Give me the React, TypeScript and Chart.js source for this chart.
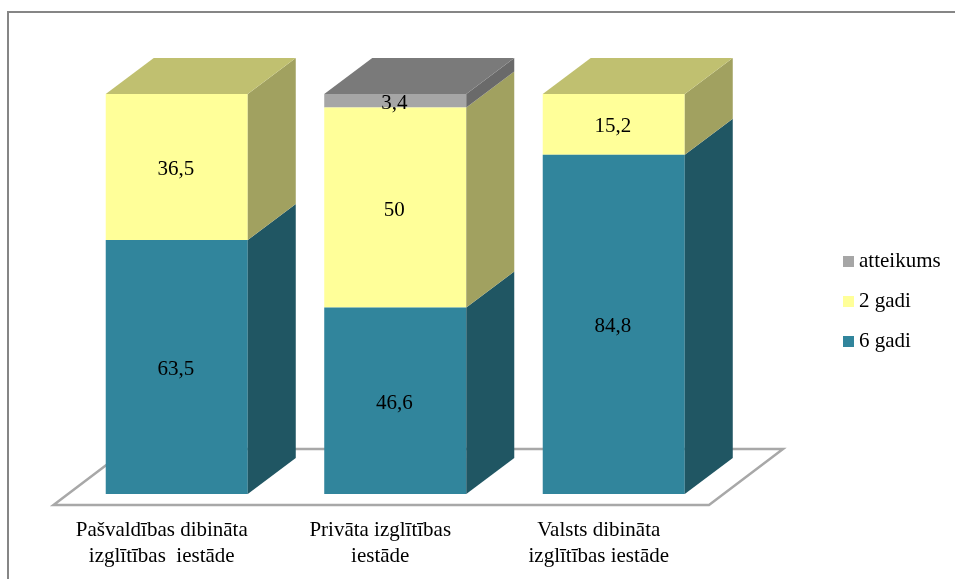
import React, { useEffect, useRef } from "react";
import { Chart, registerables } from "chart.js";

Chart.register(...registerables);

const categories: string[][] = [
  ["Pašvaldības dibināta", "izglītības  iestāde"],
  ["Privāta izglītības", "iestāde"],
  ["Valsts dibināta", "izglītības iestāde"],
];
const sixYears: (number | null)[] = [63.5, 46.6, 84.8];
const twoYears: (number | null)[] = [36.5, 50, 15.2];
const refusal: (number | null)[] = [null, 3.4, null];

const FONT = "'Liberation Serif', 'Times New Roman', serif";
const DEPTH_X = 48;
const DEPTH_Y = 36;

const series = [
  { label: "6 gadi", data: sixYears, front: "#31859C", side: "#205663", top: "#205663" },
  { label: "2 gadi", data: twoYears, front: "#FFFF99", side: "#A1A160", top: "#C0C070" },
  { label: "atteikums", data: refusal, front: "#A6A6A6", side: "#6A6A6A", top: "#7A7A7A" },
];

function swatch(color: string): HTMLCanvasElement {
  const c = document.createElement("canvas");
  c.width = 11;
  c.height = 11;
  const g = c.getContext("2d")!;
  g.fillStyle = color;
  g.fillRect(0, 0, 11, 11);
  return c;
}

function poly(ctx: CanvasRenderingContext2D, pts: number[][], fill: string) {
  ctx.beginPath();
  pts.forEach((p, i) => (i ? ctx.lineTo(p[0], p[1]) : ctx.moveTo(p[0], p[1])));
  ctx.closePath();
  ctx.fillStyle = fill;
  ctx.fill();
}

const scene = {
  id: "scene",
  afterLayout(chart: any) {
    const l = chart.legend;
    const pad = l.options.labels.padding;
    l.left = 848.5 - pad;
    l.right = 955;
    l.top = 232;
    l.bottom = 400;
  },
  beforeDatasetsDraw(chart: any) {
    const { ctx, chartArea: a } = chart;
    ctx.save();
    // frame
    ctx.strokeStyle = "#868686";
    ctx.lineWidth = 2;
    ctx.beginPath();
    ctx.moveTo(8, chart.height);
    ctx.lineTo(8, 12);
    ctx.lineTo(chart.width, 12);
    ctx.stroke();
    // floor
    const front = a.bottom + 11;
    const back = a.bottom - 45;
    ctx.strokeStyle = "#A8A8A8";
    ctx.lineWidth = 2.5;
    ctx.lineJoin = "miter";
    ctx.beginPath();
    ctx.moveTo(a.left - 14, front);
    ctx.lineTo(a.right - 14, front);
    ctx.lineTo(a.right + 60, back);
    ctx.lineTo(a.left + 60, back);
    ctx.closePath();
    ctx.stroke();
    ctx.restore();
  },
  afterDatasetsDraw(chart: any) {
    const { ctx } = chart;
    ctx.save();
    series.forEach((s, di) => {
      const meta = chart.getDatasetMeta(di);
      meta.data.forEach((bar: any, i: number) => {
        if (s.data[i] == null) return;
        const half = bar.width / 2;
        const r = bar.x + half;
        const l = bar.x - half;
        poly(ctx, [[r, bar.y], [r + DEPTH_X, bar.y - DEPTH_Y], [r + DEPTH_X, bar.base - DEPTH_Y], [r, bar.base]], s.side);
        const above = series.slice(di + 1).some((o) => o.data[i] != null);
        if (!above) {
          poly(ctx, [[l, bar.y], [l + DEPTH_X, bar.y - DEPTH_Y], [r + DEPTH_X, bar.y - DEPTH_Y], [r, bar.y]], s.top);
        }
      });
    });
    ctx.fillStyle = "#000";
    ctx.font = `21px ${FONT}`;
    ctx.textAlign = "center";
    ctx.textBaseline = "middle";
    series.forEach((s, di) => {
      const meta = chart.getDatasetMeta(di);
      meta.data.forEach((bar: any, i: number) => {
        const v = s.data[i];
        if (v == null) return;
        ctx.fillText(String(v).replace(".", ","), bar.x - 1, (bar.y + bar.base) / 2 + 2.5);
      });
    });
    ctx.restore();
  },
};

export default function App() {
  const ref = useRef<HTMLCanvasElement>(null);
  useEffect(() => {
    const swatches = series.map((s) => swatch(s.front));
    const chart = new Chart(ref.current!, {
      type: "bar",
      data: {
        labels: categories,
        datasets: series.map((s) => ({
          label: s.label,
          data: s.data,
          backgroundColor: s.front,
          borderWidth: 0,
          categoryPercentage: 0.65,
          barPercentage: 1,
        })),
      },
      plugins: [scene],
      options: {
        responsive: false,
        animation: false,
        layout: { padding: { left: 67.5, right: 232, top: 94, bottom: 0 } },
        scales: {
          x: {
            stacked: true,
            grid: { display: false },
            border: { display: false },
            afterFit: (s: any) => {
              s.height = 85;
            },
            ticks: {
              color: "#000",
              padding: 15,
              labelOffset: -15,
              autoSkip: false,
              maxRotation: 0,
              font: { family: FONT, size: 21, lineHeight: 1.24 },
            },
          },
          y: { stacked: true, display: false, min: 0, max: 100 },
        },
        plugins: {
          tooltip: { enabled: false },
          legend: {
            position: "chartArea",
            align: "start",
            labels: {
              color: "#000",
              font: { family: FONT, size: 21 },
              padding: 19,
              boxHeight: 11,
              usePointStyle: true,
              pointStyleWidth: 0.01,
              generateLabels: (c: any) =>
                Chart.defaults.plugins.legend.labels.generateLabels(c).map((it: any) => ({
                  ...it,
                  pointStyle: swatches[it.datasetIndex],
                })),
            },
            reverse: true,
          },
        },
      },
    } as any);
    return () => chart.destroy();
  }, []);
  return (
    <div style={{ position: "absolute", left: 0, top: 0, width: 955, height: 579, background: "#fff" }}>
      <canvas ref={ref} width={955} height={579} style={{ display: "block" }} />
    </div>
  );
}
